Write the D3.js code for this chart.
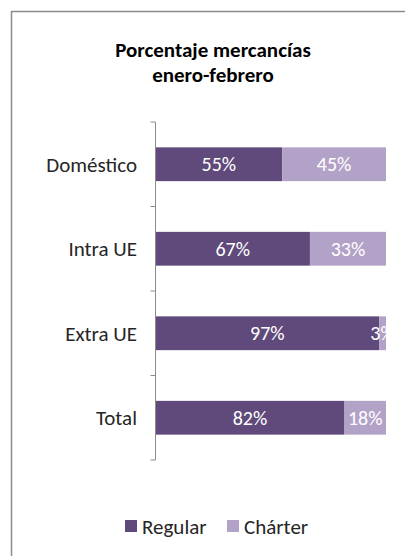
<!DOCTYPE html>
<html>
<head>
<meta charset="utf-8">
<script src="https://cdn.jsdelivr.net/npm/d3@7"></script>
<style>
  body { margin: 0; background: #fff; }
  svg { display: block; font-family: Carlito, Calibri, Lato, sans-serif; }
</style>
</head>
<body>
<div id="chart"></div>
<script>
const categories = ["Doméstico", "Intra UE", "Extra UE", "Total"];
const regular = [55, 67, 97, 82];
const charter = [45, 33, 3, 18];
const seriesNames = ["Regular", "Chárter"];
const seriesColors = ["#604a7b", "#b3a2c7"];

const width = 405;
const height = 556;
const plotLeft = 155.5;
const plotRight = 386;
const plotTop = 122;
const plotBottom = 460;

const svg = d3.select('#chart')
    .append('svg')
        .attr('width', width)
        .attr('height', height);

// chart frame
svg.append('rect')
    .attr('x', 11.5)
    .attr('y', 11.5)
    .attr('width', 420)
    .attr('height', 560)
    .attr('fill', '#fff')
    .attr('stroke', '#8a8a8a')
    .attr('stroke-width', 1.5);

svg.append('text')
    .attr('x', 213)
    .attr('text-anchor', 'middle')
    .attr('font-weight', 'bold')
    .attr('font-size', '21px')
    .attr('fill', '#000')
    .selectAll('tspan')
    .data(["Porcentaje mercancías", "enero-febrero"])
    .join('tspan')
        .attr('x', 213)
        .attr('y', (d, i) => 57 + i * 25)
        .text(d => d);

const x = d3.scaleLinear()
    .domain([0, 100])
    .range([plotLeft, plotRight]);

const y = d3.scaleBand()
    .domain(categories)
    .range([plotTop, plotBottom])
    .paddingInner(0.6)
    .paddingOuter(0.3);

const stackData = categories.map((c, i) => ({ cat: c, Regular: regular[i], "Chárter": charter[i] }));
const stacked = d3.stack().keys(seriesNames)(stackData);

svg.append('clipPath')
    .attr('id', 'plotClip')
    .append('rect')
        .attr('x', plotLeft)
        .attr('y', plotTop)
        .attr('width', plotRight - plotLeft)
        .attr('height', plotBottom - plotTop);

const layers = svg.append('g')
    .attr('clip-path', 'url(#plotClip)')
    .selectAll('g')
    .data(stacked)
    .join('g')
        .attr('fill', (d, i) => seriesColors[i]);

layers.selectAll('rect')
    .data(d => d)
    .join('rect')
        .attr('x', d => x(d[0]))
        .attr('y', d => y(d.data.cat))
        .attr('width', d => x(d[1]) - x(d[0]))
        .attr('height', y.bandwidth());

layers.selectAll('text')
    .data(d => d)
    .join('text')
        .attr('x', d => (x(d[0]) + x(d[1])) / 2)
        .attr('y', d => y(d.data.cat) + y.bandwidth() / 2)
        .attr('dy', '0.36em')
        .attr('text-anchor', 'middle')
        .attr('font-size', '20px')
        .attr('fill', '#fff')
        .text(d => (d[1] - d[0]) + '%');

// category axis with ticks between bands
const boundaries = d3.range(categories.length + 1).map(i => plotTop + i * (plotBottom - plotTop) / categories.length);
const axisG = svg.append('g');
axisG.append('line')
    .attr('x1', plotLeft).attr('x2', plotLeft)
    .attr('y1', plotTop).attr('y2', plotBottom)
    .attr('stroke', '#8c8c8c')
    .attr('stroke-width', 1);
axisG.selectAll('line.tick')
    .data(boundaries)
    .join('line')
        .attr('class', 'tick')
        .attr('x1', plotLeft - 5).attr('x2', plotLeft)
        .attr('y1', d => d).attr('y2', d => d)
        .attr('stroke', '#8c8c8c');

axisG.selectAll('text')
    .data(categories)
    .join('text')
        .attr('x', 137)
        .attr('y', d => y(d) + y.bandwidth() / 2)
        .attr('dy', '0.36em')
        .attr('text-anchor', 'end')
        .attr('font-size', '21px')
        .attr('fill', '#262626')
        .text(d => d);

// legend
const legendX = [125, 227];
const legend = svg.append('g')
    .selectAll('g')
    .data(seriesNames)
    .join('g')
        .attr('transform', (d, i) => `translate(${legendX[i]}, 520)`);
legend.append('rect')
    .attr('width', 12)
    .attr('height', 12)
    .attr('fill', (d, i) => seriesColors[i]);
legend.append('text')
    .attr('x', 17)
    .attr('y', 6)
    .attr('dy', '0.36em')
    .attr('font-size', '21px')
    .attr('fill', '#262626')
    .text(d => d);
</script>
</body>
</html>
